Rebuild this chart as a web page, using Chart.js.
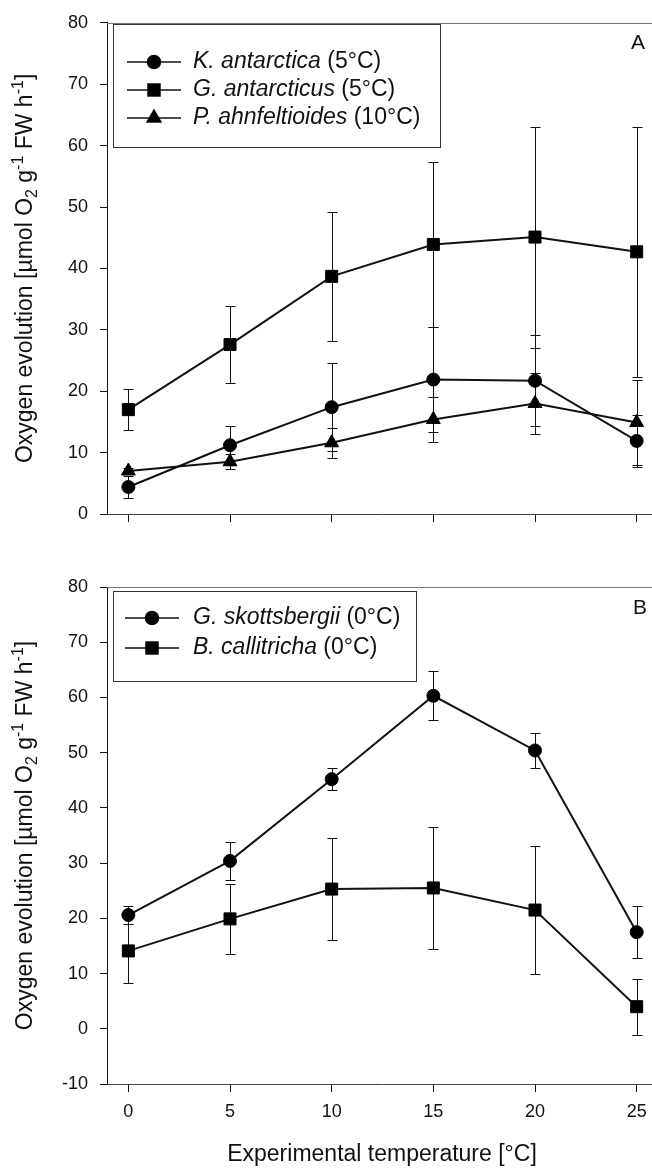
<!DOCTYPE html>
<html>
<head>
<meta charset="utf-8">
<script src="https://cdn.jsdelivr.net/npm/chart.js@4.4.1/dist/chart.umd.min.js"></script>
<style>
  html, body { margin: 0; padding: 0; background: #fff; }
  #wrap { position: relative; width: 652px; height: 1168px; overflow: hidden; }
  #wrap canvas { position: absolute; left: 0; }
  #chartA { top: 0; }
  #chartB { top: 560px; }
</style>
</head>
<body>
<div id="wrap">
  <canvas id="chartA" width="670" height="540"></canvas>
  <canvas id="chartB" width="670" height="608"></canvas>
</div>
<script>
// temperatures (x) and tick labels
const temps = [0, 5, 10, 15, 20, 25];
const xTicks = [0, 5, 10, 15, 20, 25];
const yTicksA = [0, 10, 20, 30, 40, 50, 60, 70, 80];
const yTicksB = [-10, 0, 10, 20, 30, 40, 50, 60, 70, 80];

// panel A
const namesA = ['K. antarctica', 'G. antarcticus', 'P. ahnfeltioides'];
const acclimA = [' (5°C)', ' (5°C)', ' (10°C)'];
const kAntarctica = [4.4, 11.2, 17.4, 21.9, 21.7, 11.9];
const kAntarcticaErr = [1.8, 3.2, 7.2, 8.5, 7.4, 4.3];
const gAntarcticus = [17.0, 27.6, 38.7, 43.9, 45.1, 42.7];
const gAntarcticusErr = [3.4, 6.2, 10.5, 13.5, 18.0, 20.4];
const pAhnfeltioides = [7.0, 8.5, 11.6, 15.4, 18.0, 14.9];
const pAhnfeltioidesErr = [0.5, 1.2, 2.4, 3.6, 5.0, 7.0];

// panel B
const namesB = ['G. skottsbergii', 'B. callitricha'];
const acclimB = [' (0°C)', ' (0°C)'];
const gSkottsbergii = [20.6, 30.4, 45.2, 60.3, 50.4, 17.5];
const gSkottsbergiiErr = [1.6, 3.4, 2.0, 4.4, 3.1, 4.7];
const bCallitricha = [14.1, 19.9, 25.3, 25.5, 21.5, 4.0];
const bCallitrichaErr = [5.9, 6.4, 9.2, 11.0, 11.6, 5.1];

const FONT = 'Liberation Sans, Arial, sans-serif';
Chart.defaults.font.family = FONT;
Chart.defaults.font.size = 18;
Chart.defaults.color = '#111';

const toPoints = vals => temps.map((t, i) => ({ x: t, y: vals[i] }));

function series(label, acclim, vals, errs, style, radius) {
    return {
        label: label,
        acclim: acclim,
        data: toPoints(vals),
        errors: errs,
        borderColor: '#111',
        backgroundColor: '#000',
        borderWidth: 2,
        pointStyle: style,
        pointRadius: radius,
        pointBorderWidth: 1,
        pointBorderColor: '#000',
        pointBackgroundColor: '#000',
        tension: 0
    };
}

// vertical error bars with caps
const errorBars = {
    id: 'errorBars',
    beforeDatasetsDraw(chart) {
        const { ctx, scales: { x, y } } = chart;
        ctx.save();
        ctx.strokeStyle = '#111';
        ctx.lineWidth = 1;
        chart.data.datasets.forEach(ds => {
            ds.data.forEach((p, i) => {
                const e = ds.errors[i];
                const px = Math.round(x.getPixelForValue(p.x)) + 0.5;
                const top = Math.round(y.getPixelForValue(p.y + e)) + 0.5;
                const bot = Math.round(y.getPixelForValue(p.y - e)) + 0.5;
                ctx.beginPath();
                ctx.moveTo(px, top); ctx.lineTo(px, bot);
                ctx.moveTo(px - 5, top); ctx.lineTo(px + 5, top);
                ctx.moveTo(px - 5, bot); ctx.lineTo(px + 5, bot);
                ctx.stroke();
            });
        });
        ctx.restore();
    }
};

// top frame line, boxed legend, panel letter, y title with sub/superscripts
const decor = {
    id: 'decor',
    afterDraw(chart, args, opts) {
        const { ctx, chartArea } = chart;
        ctx.save();

        ctx.strokeStyle = '#777';
        ctx.lineWidth = 1;
        ctx.beginPath();
        ctx.moveTo(chartArea.left, Math.round(chartArea.top) + 0.5);
        ctx.lineTo(chartArea.right, Math.round(chartArea.top) + 0.5);
        ctx.stroke();

        // legend box
        const b = opts.box;
        ctx.strokeStyle = '#333';
        ctx.strokeRect(b[0] + 0.5, b[1] + 0.5, b[2] - b[0], b[3] - b[1]);
        chart.data.datasets.forEach((ds, i) => {
            const ly = opts.rows[i];
            ctx.strokeStyle = '#111';
            ctx.lineWidth = 1.5;
            ctx.beginPath();
            ctx.moveTo(opts.symbol[0], ly);
            ctx.lineTo(opts.symbol[1], ly);
            ctx.stroke();
            ctx.fillStyle = '#000';
            Chart.helpers.drawPoint(ctx, {
                pointStyle: ds.pointStyle, radius: ds.pointRadius, borderWidth: 1
            }, (opts.symbol[0] + opts.symbol[1]) / 2, ly);
            ctx.fill();
            ctx.fillStyle = '#111';
            ctx.textBaseline = 'middle';
            ctx.textAlign = 'left';
            ctx.font = 'italic 23px ' + FONT;
            ctx.fillText(ds.label, opts.textX, ly);
            const w = ctx.measureText(ds.label).width;
            ctx.font = '23px ' + FONT;
            ctx.fillText(ds.acclim, opts.textX + w, ly);
        });

        // panel letter
        ctx.font = '21px ' + FONT;
        ctx.textAlign = 'center';
        ctx.textBaseline = 'middle';
        ctx.fillStyle = '#111';
        ctx.fillText(opts.letter, opts.letterPos[0], opts.letterPos[1]);

        // y axis title
        const parts = [
            ['Oxygen evolution [\u00b5mol O', 0],
            ['2', 1],
            [' g', 0],
            ['-1', -1],
            [' FW h', 0],
            ['-1', -1],
            [']', 0]
        ];
        const fontFor = k => (k === 0 ? '23px ' : '16px ') + FONT;
        let total = 0;
        parts.forEach(p => { ctx.font = fontFor(p[1]); total += ctx.measureText(p[0]).width; });
        ctx.translate(opts.titleX, (chartArea.top + chartArea.bottom) / 2);
        ctx.rotate(-Math.PI / 2);
        ctx.textAlign = 'left';
        ctx.textBaseline = 'alphabetic';
        let cx = -total / 2;
        parts.forEach(p => {
            ctx.font = fontFor(p[1]);
            const dy = p[1] === 1 ? 5 : (p[1] === -1 ? -9 : 0);
            ctx.fillText(p[0], cx, dy);
            cx += ctx.measureText(p[0]).width;
        });
        ctx.restore();
    }
};

function makeOptions(yTicks, yMin, yMax, padTop, xHeight, showXLabels, decorOpts) {
    return {
        responsive: false,
        animation: false,
        events: [],
        layout: { padding: { top: padTop, right: 13, left: 0, bottom: 0 } },
        plugins: {
            legend: { display: false },
            tooltip: { enabled: false },
            decor: decorOpts
        },
        scales: {
            x: {
                type: 'linear',
                min: -1.05,
                max: 26,
                afterBuildTicks: s => { s.ticks = xTicks.map(v => ({ value: v })); },
                afterFit: s => { s.height = xHeight; },
                grid: { drawOnChartArea: false, drawTicks: true, tickLength: 8, color: '#111' },
                border: { display: true, color: '#444', width: 1 },
                ticks: { display: showXLabels, padding: 9, font: { size: 18 }, color: '#111' },
                title: {
                    display: showXLabels,
                    text: 'Experimental temperature [°C]',
                    font: { size: 23 },
                    color: '#111',
                    padding: { top: 0, bottom: 0 }
                }
            },
            y: {
                min: yMin,
                max: yMax,
                afterBuildTicks: s => { s.ticks = yTicks.map(v => ({ value: v })); },
                afterFit: s => { s.width = 107; },
                grid: { drawOnChartArea: false, drawTicks: true, tickLength: 7, color: '#111' },
                border: { display: true, color: '#111', width: 1 },
                ticks: { padding: 12, font: { size: 18 }, color: '#111' }
            }
        }
    };
}

const chartA = new Chart(document.getElementById('chartA').getContext('2d'), {
    type: 'line',
    data: {
        datasets: [
            series(namesA[0], acclimA[0], kAntarctica, kAntarcticaErr, 'circle', 6.5),
            series(namesA[1], acclimA[1], gAntarcticus, gAntarcticusErr, 'rect', 8.5),
            series(namesA[2], acclimA[2], pAhnfeltioides, pAhnfeltioidesErr, 'triangle', 8)
        ]
    },
    options: makeOptions(yTicksA, 0, 80, 19, 26, false, {
        box: [113, 24, 440, 147],
        rows: [62, 90, 118],
        symbol: [127, 181],
        textX: 193,
        letter: 'A',
        letterPos: [638, 43],
        titleX: 32
    }),
    plugins: [errorBars, decor]
});

const chartB = new Chart(document.getElementById('chartB').getContext('2d'), {
    type: 'line',
    data: {
        datasets: [
            series(namesB[0], acclimB[0], gSkottsbergii, gSkottsbergiiErr, 'circle', 6.5),
            series(namesB[1], acclimB[1], bCallitricha, bCallitrichaErr, 'rect', 8.5)
        ]
    },
    options: makeOptions(yTicksB, -10, 80, 27, 84, true, {
        box: [113, 31, 416, 121],
        rows: [58, 88],
        symbol: [125, 179],
        textX: 193,
        letter: 'B',
        letterPos: [640, 48],
        titleX: 32
    }),
    plugins: [errorBars, decor]
});
</script>
</body>
</html>
